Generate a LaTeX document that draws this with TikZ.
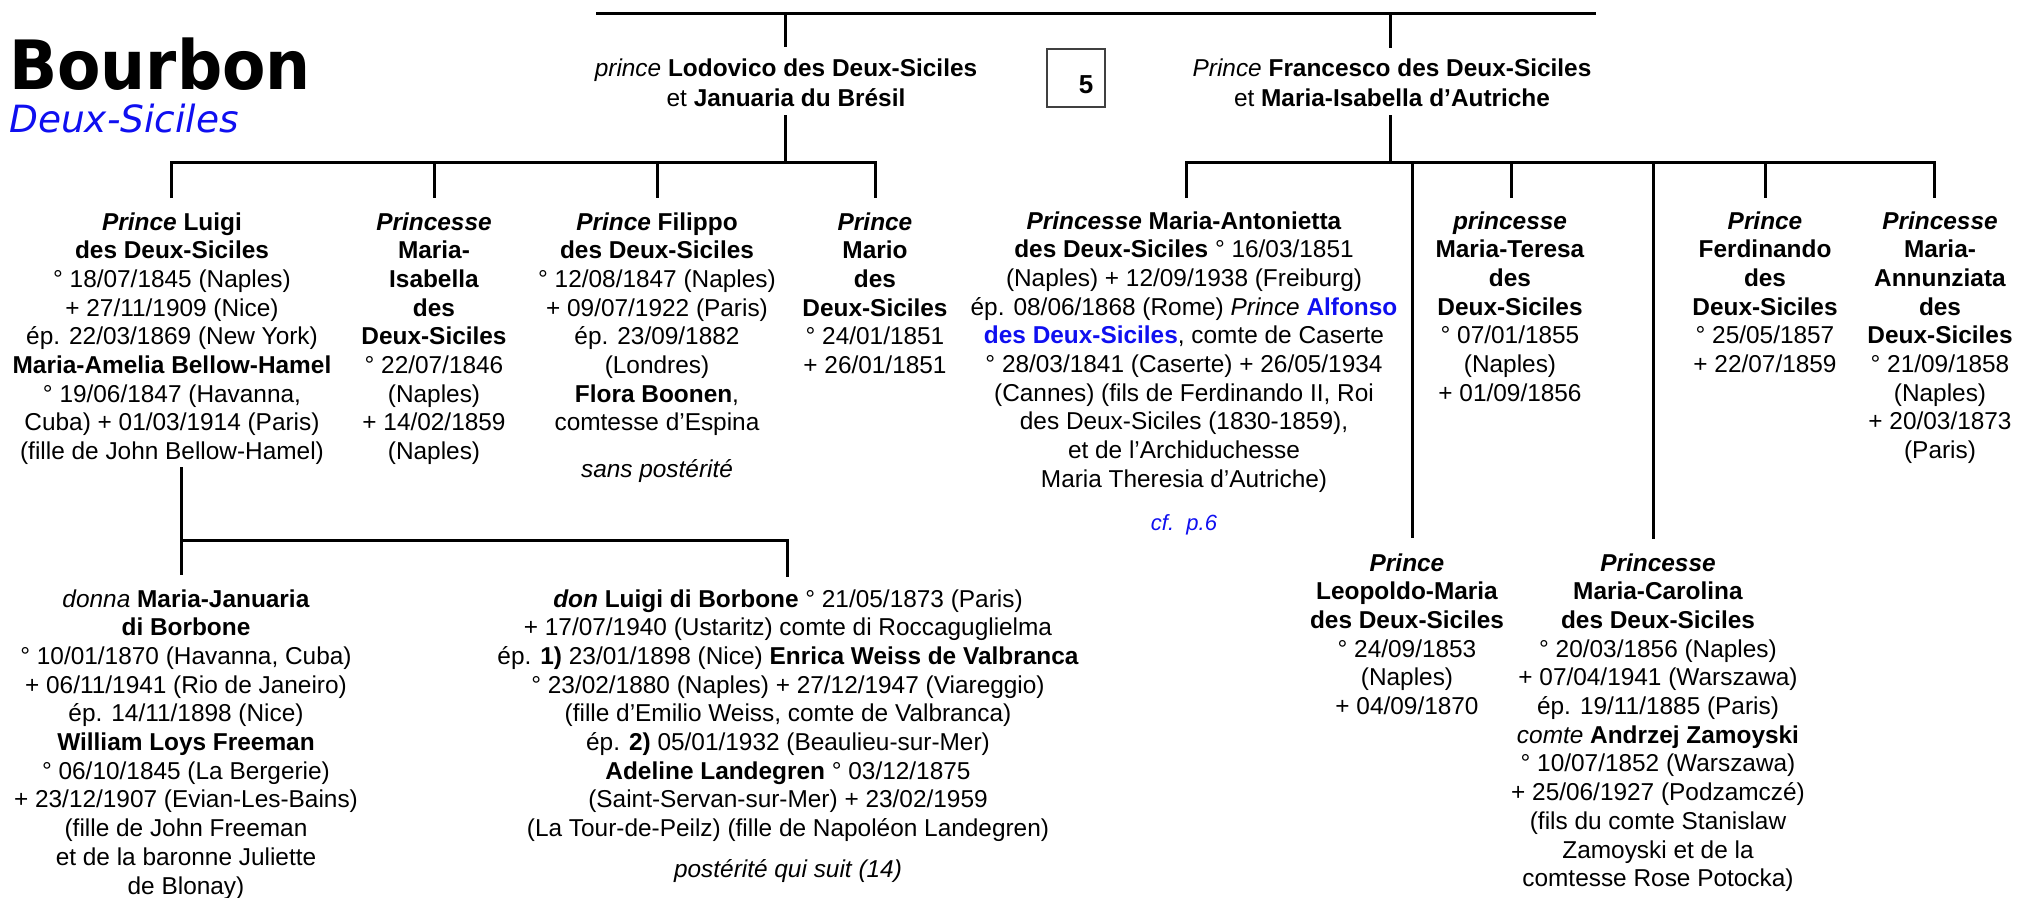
\documentclass[tikz,border=0pt]{standalone}
\usepackage{fontspec}
\setmainfont{Liberation Sans}
\newfontfamily\titlefont{DejaVu Sans}
\definecolor{refblue}{RGB}{15,15,240}
\newcommand\bi[1]{\textbf{\textit{#1}}}
\newcommand\firstrule{\rule{0pt}{18.3pt}}
\begin{document}
\begin{tikzpicture}[x=1pt,y=-1pt,
  person/.style={align=center, inner sep=0pt, anchor=north, font=\fontsize{24.4}{28.7}\selectfont},
  parent/.style={align=center, inner sep=0pt, anchor=north, font=\fontsize{24.4}{30}\selectfont},
  note/.style={inner sep=0pt, anchor=north, font=\fontsize{24.4}{28.7}\selectfont\itshape},
  tree/.style={line width=3pt}]
\useasboundingbox (0,0) rectangle (2018,897);

% title
\node[anchor=base west, inner sep=0pt, font=\titlefont\bfseries\fontsize{68}{70}\selectfont] (title) at (9,89) {\scalebox{0.93}[1]{Bourbon}};
\node[anchor=base west, inner sep=0pt, font=\titlefont\itshape\fontsize{37.5}{40}\selectfont, text=refblue] (subtitle) at (9,132) {Deux-Siciles};

% parents
\node[parent] (lodo) at (786,57.5) {\firstrule\textit{prince} \textbf{Lodovico des Deux-Siciles}\\ et \textbf{Januaria du Brésil}};
\node[parent] (fran) at (1392,57.5) {\firstrule\textit{Prince} \textbf{Francesco des Deux-Siciles}\\ et \textbf{Maria-Isabella d’Autriche}};
\node[draw=black!75, line width=1.5pt, minimum width=58pt, minimum height=58pt, inner sep=0pt] (box) at (1076,78) {};
\node[inner sep=0pt, font=\bfseries\fontsize{26}{28}\selectfont] (five) at (1086,85) {5};

% first generation, Lodovico
\node[person] (luigi) at (172,211.5) {\firstrule\bi{Prince} \textbf{Luigi}\\ \textbf{des Deux-Siciles}\\ ° 18/07/1845 (Naples)\\ + 27/11/1909 (Nice)\\ ép. 22/03/1869 (New York)\\ \textbf{Maria-Amelia Bellow-Hamel}\\ ° 19/06/1847 (Havanna,\\ Cuba) + 01/03/1914 (Paris)\\ (fille de John Bellow-Hamel)};
\node[person] (isabella) at (434,211.5) {\firstrule\bi{Princesse}\\ \textbf{Maria-}\\ \textbf{Isabella}\\ \textbf{des}\\ \textbf{Deux-Siciles}\\ ° 22/07/1846\\ (Naples)\\ + 14/02/1859\\ (Naples)};
\node[person] (filippo) at (657,211.5) {\firstrule\bi{Prince} \textbf{Filippo}\\ \textbf{des Deux-Siciles}\\ ° 12/08/1847 (Naples)\\ + 09/07/1922 (Paris)\\ ép. 23/09/1882\\ (Londres)\\ \textbf{Flora Boonen},\\ comtesse d’Espina};
\node[note] (filippoNote) at (657,458.5) {\firstrule sans postérité};
\node[person] (mario) at (875,211.5) {\firstrule\bi{Prince}\\ \textbf{Mario}\\ \textbf{des}\\ \textbf{Deux-Siciles}\\ ° 24/01/1851\\ + 26/01/1851};

% first generation, Francesco
\node[person] (antonietta) at (1184,210.5) {\firstrule\bi{Princesse} \textbf{Maria-Antonietta}\\ \textbf{des Deux-Siciles} ° 16/03/1851\\ (Naples) + 12/09/1938 (Freiburg)\\ ép. 08/06/1868 (Rome) \textit{Prince} \textcolor{refblue}{\textbf{Alfonso}}\\ \textcolor{refblue}{\textbf{des Deux-Siciles}}, comte de Caserte\\ ° 28/03/1841 (Caserte) + 26/05/1934\\ (Cannes) (fils de Ferdinando II, Roi\\ des Deux-Siciles (1830-1859),\\ et de l’Archiduchesse\\ Maria Theresia d’Autriche)};
\node[note, font=\fontsize{22}{26}\selectfont\itshape, text=refblue] (cfNote) at (1184,514) {\rule{0pt}{16.5pt}cf.\ \ p.6};
\node[person] (teresa) at (1510,210.5) {\firstrule\bi{princesse}\\ \textbf{Maria-Teresa}\\ \textbf{des}\\ \textbf{Deux-Siciles}\\ ° 07/01/1855\\ (Naples)\\ + 01/09/1856};
\node[person] (ferdinando) at (1765,210.5) {\firstrule\bi{Prince}\\ \textbf{Ferdinando}\\ \textbf{des}\\ \textbf{Deux-Siciles}\\ ° 25/05/1857\\ + 22/07/1859};
\node[person] (annunziata) at (1940,210.5) {\firstrule\bi{Princesse}\\ \textbf{Maria-}\\ \textbf{Annunziata}\\ \textbf{des}\\ \textbf{Deux-Siciles}\\ ° 21/09/1858\\ (Naples)\\ + 20/03/1873\\ (Paris)};
\node[person] (leopoldo) at (1407,552.5) {\firstrule\bi{Prince}\\ \textbf{Leopoldo-Maria}\\ \textbf{des Deux-Siciles}\\ ° 24/09/1853\\ (Naples)\\ + 04/09/1870};
\node[person] (carolina) at (1658,552.5) {\firstrule\bi{Princesse}\\ \textbf{Maria-Carolina}\\ \textbf{des Deux-Siciles}\\ ° 20/03/1856 (Naples)\\ + 07/04/1941 (Warszawa)\\ ép. 19/11/1885 (Paris)\\ \textit{comte} \textbf{Andrzej Zamoyski}\\ ° 10/07/1852 (Warszawa)\\ + 25/06/1927 (Podzamczé)\\ (fils du comte Stanislaw\\ Zamoyski et de la\\ comtesse Rose Potocka)};

% second generation
\node[person] (januaria) at (186,588.5) {\firstrule\textit{donna} \textbf{Maria-Januaria}\\ \textbf{di Borbone}\\ ° 10/01/1870 (Havanna, Cuba)\\ + 06/11/1941 (Rio de Janeiro)\\ ép. 14/11/1898 (Nice)\\ \textbf{William Loys Freeman}\\ ° 06/10/1845 (La Bergerie)\\ + 23/12/1907 (Evian-Les-Bains)\\ (fille de John Freeman\\ et de la baronne Juliette\\ de Blonay)};
\node[person] (donluigi) at (788,588.5) {\firstrule\bi{don} \textbf{Luigi di Borbone} ° 21/05/1873 (Paris)\\ + 17/07/1940 (Ustaritz) comte di Roccaguglielma\\ ép. \textbf{1)} 23/01/1898 (Nice) \textbf{Enrica Weiss de Valbranca}\\ ° 23/02/1880 (Naples) + 27/12/1947 (Viareggio)\\ (fille d’Emilio Weiss, comte de Valbranca)\\ ép. \textbf{2)} 05/01/1932 (Beaulieu-sur-Mer)\\ \textbf{Adeline Landegren} ° 03/12/1875\\ (Saint-Servan-sur-Mer) + 23/02/1959\\ (La Tour-de-Peilz) (fille de Napoléon Landegren)};
\node[note] (donNote) at (788,858.5) {\firstrule postérité qui suit (14)};

% connector coordinates
\coordinate (topL) at (596,13);
\coordinate (topR) at (1596,13);
\coordinate (lodoUp) at (785,47);
\coordinate (lodoDown) at (785,115);
\coordinate (franUp) at (1390,48);
\coordinate (franDown) at (1390,115);
\coordinate (barL) at (0,162);
\coordinate (luigiDrop) at (171,198);
\coordinate (isabellaDrop) at (434,198);
\coordinate (filippoDrop) at (657,198);
\coordinate (marioDrop) at (875,198);
\coordinate (antoniettaDrop) at (1186,198);
\coordinate (leopoldoDrop) at (1412,538);
\coordinate (teresaDrop) at (1511,198);
\coordinate (carolinaDrop) at (1653,539);
\coordinate (ferdinandoDrop) at (1765,198);
\coordinate (annunziataDrop) at (1934,198);
\coordinate (luigiStem) at (181,467);
\coordinate (barB) at (0,540);
\coordinate (januariaDrop) at (181,575);
\coordinate (donluigiDrop) at (787,577);

% connectors
\draw[tree] (topL) -- (topR);
\draw[tree] (lodoUp |- topL) -- (lodoUp);
\draw[tree] (franUp |- topL) -- (franUp);
\draw[tree] (lodoDown) -- (lodoDown |- barL);
\draw[tree] (franDown) -- (franDown |- barL);
\draw[tree] (luigiDrop) -- (luigiDrop |- barL) -- (marioDrop |- barL) -- (marioDrop);
\draw[tree] (isabellaDrop |- barL) -- (isabellaDrop);
\draw[tree] (filippoDrop |- barL) -- (filippoDrop);
\draw[tree] (antoniettaDrop) -- (antoniettaDrop |- barL) -- (annunziataDrop |- barL) -- (annunziataDrop);
\draw[tree] (leopoldoDrop |- barL) -- (leopoldoDrop);
\draw[tree] (teresaDrop |- barL) -- (teresaDrop);
\draw[tree] (carolinaDrop |- barL) -- (carolinaDrop);
\draw[tree] (ferdinandoDrop |- barL) -- (ferdinandoDrop);
\draw[tree] (luigiStem) -- (januariaDrop);
\draw[tree] (luigiStem |- barB) -- (donluigiDrop |- barB) -- (donluigiDrop);
\end{tikzpicture}
\end{document}
